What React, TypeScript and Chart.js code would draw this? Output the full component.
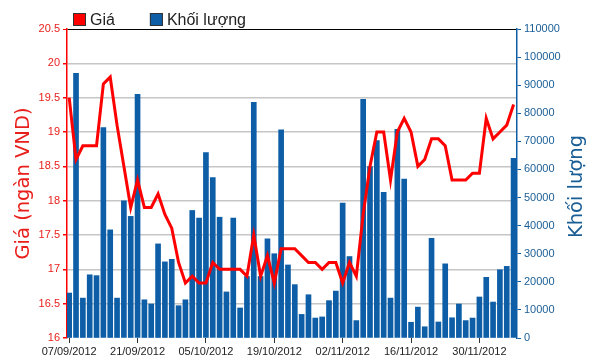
import React, { useEffect, useRef } from "react";
import { Chart, registerables } from "chart.js";

Chart.register(...registerables);

const dates = [
  "07/09/2012", "10/09/2012", "11/09/2012", "12/09/2012", "13/09/2012", "14/09/2012",
  "17/09/2012", "18/09/2012", "19/09/2012", "20/09/2012", "21/09/2012",
  "24/09/2012", "25/09/2012", "26/09/2012", "27/09/2012", "28/09/2012",
  "01/10/2012", "02/10/2012", "03/10/2012", "04/10/2012", "05/10/2012",
  "08/10/2012", "09/10/2012", "10/10/2012", "11/10/2012", "12/10/2012",
  "15/10/2012", "16/10/2012", "17/10/2012", "18/10/2012", "19/10/2012",
  "22/10/2012", "23/10/2012", "24/10/2012", "25/10/2012", "26/10/2012",
  "29/10/2012", "30/10/2012", "31/10/2012", "01/11/2012", "02/11/2012",
  "05/11/2012", "06/11/2012", "07/11/2012", "08/11/2012", "09/11/2012",
  "12/11/2012", "13/11/2012", "14/11/2012", "15/11/2012", "16/11/2012",
  "19/11/2012", "20/11/2012", "21/11/2012", "22/11/2012", "23/11/2012",
  "26/11/2012", "27/11/2012", "28/11/2012", "29/11/2012", "30/11/2012",
  "03/12/2012", "04/12/2012", "05/12/2012", "06/12/2012", "07/12/2012",
];

const prices = [
  19.5, 18.6, 18.8, 18.8, 18.8, 19.7, 19.8, 19.1, 18.5, 17.9, 18.3,
  17.9, 17.9, 18.1, 17.8, 17.6, 17.1, 16.8, 16.9, 16.8, 16.8,
  17.1, 17.0, 17.0, 17.0, 17.0, 16.9, 17.5, 16.9, 17.2, 16.8,
  17.3, 17.3, 17.3, 17.2, 17.1, 17.1, 17.0, 17.1, 17.1, 16.8,
  17.1, 16.9, 17.8, 18.5, 19.0, 19.0, 18.3, 19.0, 19.2, 19.0,
  18.5, 18.6, 18.9, 18.9, 18.8, 18.3, 18.3, 18.3, 18.4, 18.4,
  19.2, 18.9, 19.0, 19.1, 19.4,
];

const volumes = [
  16000, 94200, 14200, 22500, 22200, 74900, 38500, 14200, 48800, 43300, 86700,
  13600, 12100, 33500, 27100, 28000, 11500, 13600, 45400, 42700, 66000,
  57100, 43000, 16400, 42700, 10700, 21900, 83900, 21900, 35300, 30000,
  74100, 26000, 19000, 8400, 15400, 7100, 7500, 13300, 16700, 48000,
  29000, 6200, 85000, 61000, 70300, 51900, 14200, 74300, 56600, 5600,
  11000, 4000, 35500, 5700, 26400, 7200, 12100, 6200, 7100, 14600,
  21600, 12800, 24300, 25500, 64000,
];

const legendLabels = ["Giá", "Khối lượng"];
const leftTitle = "Giá (ngàn VND)";
const rightTitle = "Khối lượng";

const RED = "#ff0000";
const RED_TEXT = "#e8201c";
const BLUE = "#0d5ea6";
const BLUE_TEXT = "#1a5e96";
const GRID = "#c6c6c6";

export default function App() {
  const ref = useRef<HTMLCanvasElement>(null);

  useEffect(() => {
    document.body.style.margin = "0";
    const canvas = ref.current;
    if (!canvas) return;

    const overlay = {
      id: "overlay",
      afterDraw(chart: any) {
        const c = chart.ctx as CanvasRenderingContext2D;
        const area = chart.chartArea;
        c.save();
        c.font = "16px 'Liberation Sans', Arial, sans-serif";
        c.textBaseline = "middle";
        c.textAlign = "left";
        let x = area.left + 6;
        const yc = area.top - 9.5;
        const colors = [RED, BLUE];
        legendLabels.forEach((label, i) => {
          c.fillStyle = colors[i];
          c.fillRect(x, yc - 6.5, 13, 13);
          c.strokeStyle = "#333";
          c.lineWidth = 1;
          c.strokeRect(x + 0.5, yc - 6, 12, 12);
          c.fillStyle = "#222";
          c.fillText(label, x + 17, yc + 1);
          x += 17 + c.measureText(label).width + 35;
        });
        const y1 = chart.scales.y1;
        c.font = "19.5px 'DejaVu Sans', sans-serif";
        c.fillStyle = BLUE_TEXT;
        c.translate(y1.right - 21, (y1.top + y1.bottom) / 2 + 3);
        c.rotate(-Math.PI / 2);
        c.textAlign = "center";
        c.textBaseline = "middle";
        c.fillText(rightTitle, 0, 0);
        c.restore();
      },
    };

    const tickFont = { family: "'Liberation Sans', Arial, sans-serif", size: 11 };

    const chart = new Chart(canvas, {
      type: "bar",
      data: {
        datasets: [
          {
            type: "line",
            label: legendLabels[0],
            data: prices.map((p, i) => ({ x: i, y: p })),
            borderColor: RED,
            backgroundColor: RED,
            borderWidth: 3,
            pointRadius: 0,
            tension: 0,
            yAxisID: "y",
            order: 0,
          } as any,
          {
            type: "bar",
            label: legendLabels[1],
            data: volumes.map((v, i) => ({ x: i, y: v })),
            backgroundColor: BLUE,
            barThickness: 5,
            yAxisID: "y1",
            order: 1,
          } as any,
        ],
      },
      options: {
        animation: false,
        responsive: true,
        maintainAspectRatio: false,
        layout: { padding: { top: 29, left: 0, right: 0, bottom: 0 } },
        plugins: { legend: { display: false }, tooltip: { enabled: false } },
        scales: {
          x: {
            type: "linear",
            offset: false,
            min: -0.32,
            max: 65.5,
            afterFit: (s: any) => {
              s.height = 25;
            },
            ticks: {
              stepSize: 10,
              includeBounds: false,
              autoSkip: false,
              maxRotation: 0,
              color: "#222",
              font: tickFont,
              padding: 2,
              callback: (v: any) => dates[Number(v)] ?? "",
            },
            grid: {
              offset: false,
              drawOnChartArea: false,
              drawTicks: true,
              tickLength: 5,
              tickColor: "#333",
            },
            border: { display: false },
          },
          y: {
            position: "left",
            min: 16,
            max: 20.5,
            afterFit: (s: any) => {
              s.width = 67;
            },
            ticks: {
              stepSize: 0.5,
              color: RED_TEXT,
              font: tickFont,
              padding: 3,
              callback: (v: any) => String(v),
            },
            grid: {
              color: (ctx: any) => {
                const v = ctx.tick && ctx.tick.value;
                if (v === 20.5) return "#000";
                if (v === 16) return "rgba(0,0,0,0)";
                return GRID;
              },
              lineWidth: (ctx: any) => (ctx.tick && ctx.tick.value === 20.5 ? 1 : 1.5),
              tickColor: RED,
              tickLength: 4,
            },
            border: { color: RED, width: 1.5 },
            title: {
              display: true,
              text: leftTitle,
              color: RED_TEXT,
              font: { family: "'DejaVu Sans', sans-serif", size: 19.5 },
              padding: { top: 12, bottom: 0 },
            },
          },
          y1: {
            position: "right",
            min: 0,
            max: 110000,
            afterFit: (s: any) => {
              s.width = 81;
            },
            ticks: {
              stepSize: 10000,
              color: BLUE_TEXT,
              font: tickFont,
              padding: 3,
              callback: (v: any) => String(v),
            },
            grid: {
              drawOnChartArea: false,
              drawTicks: true,
              tickColor: BLUE,
              tickLength: 4,
            },
            border: { color: BLUE, width: 1.5 },
          },
        },
      } as any,
      plugins: [overlay],
    });

    return () => {
      chart.destroy();
    };
  }, []);

  return (
    <div style={{ width: 598, height: 363, position: "relative" }}>
      <canvas ref={ref} />
    </div>
  );
}
